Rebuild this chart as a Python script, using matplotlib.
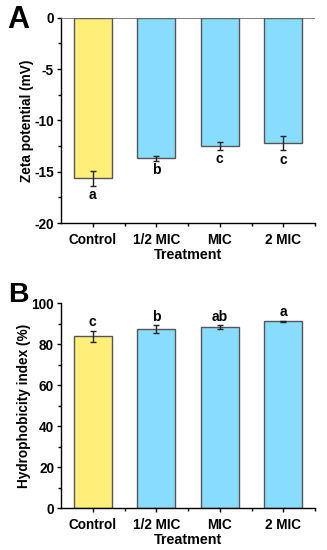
import matplotlib
matplotlib.use("Agg")
import matplotlib.pyplot as plt
from matplotlib.ticker import MultipleLocator, FixedLocator

plt.rcParams['font.family'] = ['Liberation Sans', 'DejaVu Sans']
plt.rcParams['font.weight'] = 'bold'

# data
treatments = ['Control', '1/2 MIC', 'MIC', '2 MIC']
zeta = [-15.65, -13.7, -12.47, -12.24]
zeta_err = [0.7, 0.27, 0.4, 0.68]
zeta_letters = ['a', 'b', 'c', 'c']
hydro = [83.9, 87.3, 88.4, 91.2]
hydro_err = [2.8, 2.0, 0.9, 0.4]
hydro_letters = ['c', 'b', 'ab', 'a']
colors = ['#FFEE77', '#88DDFF', '#88DDFF', '#88DDFF']

x = [1, 2, 3, 4]
W, H = 327, 550
fig = plt.figure(figsize=(W / 100, H / 100), dpi=100)

axA = fig.add_axes([61 / W, 1 - 223 / H, 254 / W, 205.3 / H])
axB = fig.add_axes([61 / W, 1 - 508.3 / H, 254 / W, 205 / H])


def style(ax):
    ax.spines['top'].set_visible(False)
    ax.spines['right'].set_visible(False)
    for s in ['left', 'bottom']:
        ax.spines[s].set_linewidth(1.0)
    ax.set_xlim(0.5, 4.5)
    ax.xaxis.set_major_locator(FixedLocator(x))
    ax.xaxis.set_minor_locator(FixedLocator([1.5, 2.5, 3.5, 4.5]))
    ax.set_xticklabels(treatments, fontsize=9.8, fontweight='bold')
    ax.tick_params(axis='both', which='major', direction='out', length=3, width=1, pad=2)
    ax.tick_params(axis='both', which='minor', direction='out', length=2, width=1)
    ax.tick_params(axis='x', which='major', pad=4)
    ax.set_xlabel('Treatment', fontsize=10.3, fontweight='bold', labelpad=1)


# panel A
axA.bar(x, zeta, width=0.6, color=colors, edgecolor='#555555', linewidth=1, zorder=2)
axA.errorbar(x, zeta, yerr=zeta_err, fmt='none', ecolor='#222222', elinewidth=1,
             capsize=2.5, capthick=1, zorder=3)
axA.axhline(0, color='#666666', linewidth=1.2, zorder=4)
axA.set_ylim(-20, 0)
axA.yaxis.set_major_locator(MultipleLocator(5))
axA.yaxis.set_minor_locator(MultipleLocator(2.5))
style(axA)
axA.set_yticks([-20, -15, -10, -5, 0])
axA.set_yticklabels(['-20', '-15', '-10', '-5', '0'], fontsize=9.8, fontweight='bold')
axA.set_ylabel('Zeta potential (mV)', fontsize=9.8, fontweight='bold', labelpad=0)
for xi, v, e, t in zip(x, zeta, zeta_err, zeta_letters):
    axA.annotate(t, (xi, v - e), xytext=(0, -9.5), textcoords='offset points',
                 ha='center', va='baseline', fontsize=10, fontweight='bold')

# panel B
axB.bar(x, hydro, width=0.6, color=colors, edgecolor='#555555', linewidth=1, zorder=2)
axB.errorbar(x, hydro, yerr=hydro_err, fmt='none', ecolor='#222222', elinewidth=1,
             capsize=2.5, capthick=1, zorder=3)
axB.set_ylim(0, 100)
axB.yaxis.set_major_locator(MultipleLocator(20))
axB.yaxis.set_minor_locator(MultipleLocator(10))
style(axB)
axB.set_yticks([0, 20, 40, 60, 80, 100])
axB.set_yticklabels(['0', '20', '40', '60', '80', '100'], fontsize=9.8, fontweight='bold')
axB.set_ylabel('Hydrophobicity index (%)', fontsize=9.8, fontweight='bold', labelpad=0)
for xi, v, e, t in zip(x, hydro, hydro_err, hydro_letters):
    axB.annotate(t, (xi, v + e), xytext=(0, 3), textcoords='offset points',
                 ha='center', va='baseline', fontsize=10, fontweight='bold')

fig.text(7 / W, 1 - 28.3 / H, 'A', fontsize=22, fontweight='bold', ha='left', va='baseline')
fig.text(8 / W, 1 - 301.7 / H, 'B', fontsize=20.5, fontweight='bold', ha='left', va='baseline')

fig.savefig('out.png', dpi=100)
